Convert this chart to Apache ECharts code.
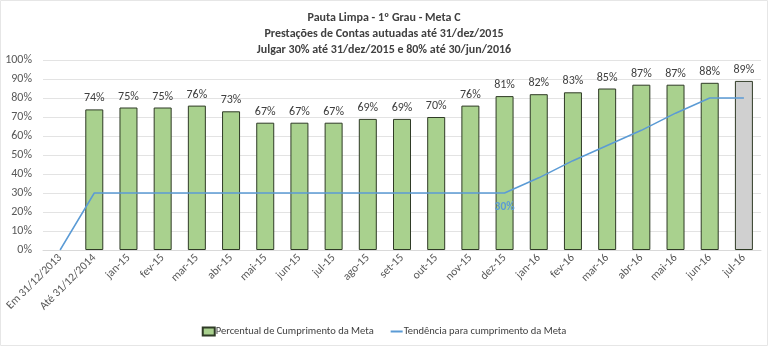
<!DOCTYPE html>
<html><head><meta charset="utf-8">
<script src="https://cdn.jsdelivr.net/npm/echarts@6/dist/echarts.min.js"></script>
<style>html,body{margin:0;padding:0;background:#fff}#c{width:768px;height:347px}</style>
</head><body><div id="c"></div>
<script>
const categories = ['Em 31/12/2013','Até 31/12/2014','jan-15','fev-15','mar-15','abr-15','mai-15','jun-15','jul-15','ago-15','set-15','out-15','nov-15','dez-15','jan-16','fev-16','mar-16','abr-16','mai-16','jun-16','jul-16'];
const percentual = [null,74,75,75,76,73,67,67,67,69,69,70,76,81,82,83,85,87,87,88,89];
const tendencia = [0,30,30,30,30,30,30,30,30,30,30,30,30,30,38,47,55,63,72,80,80];
const yTicks = [0,10,20,30,40,50,60,70,80,90,100];
const titleLines = ['Pauta Limpa - 1º Grau - Meta C','Prestações de Contas autuadas até 31/dez/2015','Julgar 30% até 31/dez/2015 e 80% até 30/jun/2016'];
const seriesNames = ['Percentual de Cumprimento da Meta','Tendência para cumprimento da Meta'];

const FONT = "Carlito, Calibri, 'Noto Sans', sans-serif";
const chart = echarts.init(document.getElementById('c'));
chart.setOption({
  animation:false,
  textStyle:{fontFamily:FONT},
  title:{text:titleLines.join('\n'),left:'center',top:5,textStyle:{fontFamily:FONT,fontSize:12,fontWeight:'bold',color:'#404040',lineHeight:16}},
  grid:{left:43,right:7,top:60,bottom:97},
  legend:{bottom:5,left:'center',itemGap:16,itemWidth:12,itemHeight:8,
    textStyle:{fontFamily:FONT,fontSize:10.5,color:'#404040',padding:[0,0,0,-4]},
    data:[{name:seriesNames[0],icon:'rect'},{name:seriesNames[1],itemStyle:{opacity:0}}]},
  xAxis:{type:'category',data:categories,
    axisLine:{lineStyle:{color:'#d9d9d9'}},axisTick:{show:false},
    axisLabel:{rotate:45,interval:0,fontFamily:FONT,fontSize:11.5,color:'#595959',margin:6}},
  yAxis:{type:'value',min:0,max:100,interval:10,
    axisLabel:{formatter:v=>yTicks.includes(v)?v+'%':'',fontFamily:FONT,fontSize:12,color:'#595959',margin:11},
    splitLine:{lineStyle:{color:'#e3e3e3'}},axisLine:{show:false},axisTick:{show:false}},
  series:[
    {name:seriesNames[0],type:'bar',barWidth:18,
      data:percentual.map((v,i)=>i===percentual.length-1?{value:v,itemStyle:{color:'#d0d0d0'}}:v),
      itemStyle:{color:'#a9d18e',borderColor:'#2f3b26',borderWidth:1},
      label:{show:true,position:'top',distance:5,formatter:p=>p.value+'%',fontFamily:FONT,fontSize:12,color:'#404040'}},
    {name:seriesNames[1],type:'line',
      data:tendencia.map((v,i)=>i===13?{value:v,label:{show:true,position:'bottom',distance:8,formatter:'{c}%',color:'#5b9bd5',fontFamily:FONT,fontSize:11.5,fontWeight:'bold'}}:v),
      symbol:'circle',symbolSize:0,showSymbol:true,lineStyle:{color:'#5b9bd5',width:1.5},itemStyle:{color:'#5b9bd5'},z:5}
  ],
  graphic:[{type:'rect',shape:{x:0.5,y:0.5,width:767,height:345},style:{fill:'none',stroke:'#e6e6e6',lineWidth:1},silent:true}]
});
</script></body></html>
